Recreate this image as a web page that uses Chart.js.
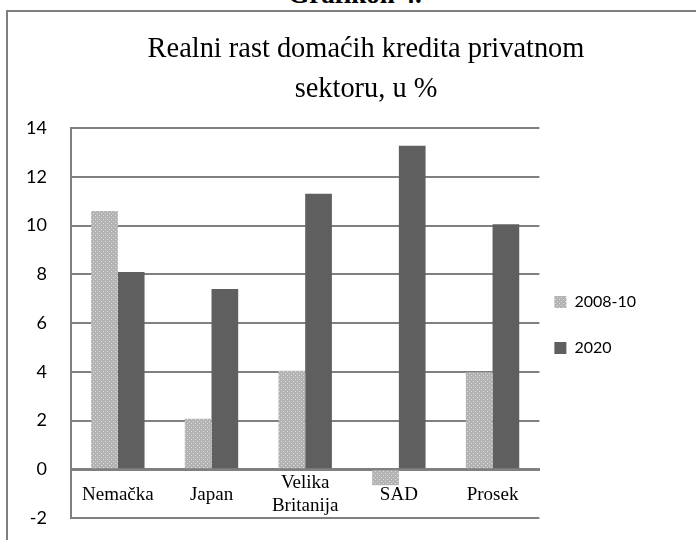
<!DOCTYPE html>
<html>
<head>
<meta charset="utf-8">
<script src="https://cdn.jsdelivr.net/npm/chart.js@4/dist/chart.umd.min.js"></script>
<style>
html,body{margin:0;padding:0;background:#fff;overflow:hidden;}
#wrap{position:relative;width:696px;height:540px;overflow:hidden;}
#frame{position:absolute;left:6px;top:10px;width:800px;height:800px;border-left:2px solid #7f7f7f;border-top:2px solid #7f7f7f;box-sizing:border-box;}
#cap{position:absolute;left:0;width:710px;top:-19px;text-align:center;font:bold 27px/27px "Liberation Serif",serif;color:#000;}
#c{position:absolute;left:0;top:0;}
</style>
</head>
<body>
<div id="wrap">
  <div id="cap">Grafikon 4.</div>
  <div id="frame"></div>
  <canvas id="c" width="696" height="540"></canvas>
</div>
<script>
const titleLines = ['Realni rast domaćih kredita privatnom', 'sektoru, u %'];
const categories = ['Nemačka', 'Japan', ['Velika', 'Britanija'], 'SAD', 'Prosek'];
const seriesNames = ['2008-10', '2020'];
const values2008_10 = [10.6, 2.07, 4.04, -0.66, 3.98];
const values2020 = [8.09, 7.4, 11.3, 13.27, 10.05];
const yMin = -2, yMax = 14, yStep = 2;

function makePattern() {
  const p = document.createElement('canvas');
  p.width = 4; p.height = 4;
  const g = p.getContext('2d');
  g.fillStyle = '#b3b3b3';
  g.fillRect(0, 0, 4, 4);
  g.fillStyle = '#dcdcdc';
  g.fillRect(1, 1, 1, 1);
  g.fillRect(3, 3, 1, 1);
  return document.getElementById('c').getContext('2d').createPattern(p, 'repeat');
}
const lightPattern = makePattern();
const gridColor = '#808080';
const TITLE_CENTER_X = 366;

const shiftTitle = {
  id: 'shiftTitle',
  afterLayout(chart) {
    const t = chart.titleBlock;
    if (!t) return;
    const dx = TITLE_CENTER_X - (t.left + t.right) / 2;
    t.left += dx; t.right += dx;
  }
};

new Chart(document.getElementById('c'), {
  type: 'bar',
  data: {
    labels: categories,
    datasets: [
      { label: seriesNames[0], data: values2008_10, backgroundColor: lightPattern, borderWidth: 0,
        barPercentage: 1, categoryPercentage: 0.57 },
      { label: seriesNames[1], data: values2020, backgroundColor: '#5f5f5f', borderWidth: 0,
        barPercentage: 1, categoryPercentage: 0.57 }
    ]
  },
  plugins: [shiftTitle],
  options: {
    responsive: false,
    animation: false,
    devicePixelRatio: 1,
    layout: { padding: { left: 20, right: 50, top: 0, bottom: 22 } },
    plugins: {
      title: {
        display: true,
        text: titleLines,
        color: '#000',
        font: { family: '"Liberation Serif", serif', size: 28.4, weight: 'normal', lineHeight: '40px' },
        padding: { top: 30, bottom: 18 }
      },
      legend: {
        position: 'right',
        align: 'center',
        fullSize: false,
        title: { display: true, text: '', font: { size: 10, lineHeight: '10px' }, padding: { top: 9, bottom: 0 } },
        labels: {
          boxWidth: 12, boxHeight: 12, padding: 15, color: '#000',
          font: { family: 'Lato, sans-serif', size: 16, lineHeight: '31px' },
          generateLabels: (chart) => Chart.defaults.plugins.legend.labels.generateLabels(chart)
            .map(item => Object.assign(item, { text: [item.text] }))
        }
      },
      tooltip: { enabled: false }
    },
    scales: {
      x: {
        position: { y: 0 },
        grid: { display: false, drawTicks: false },
        border: { display: true, color: gridColor, width: 3 },
        ticks: {
          color: '#000', padding: 14, crossAlign: 'center', maxRotation: 0, autoSkip: false,
          font: { family: '"Liberation Serif", serif', size: 19, lineHeight: '23px' }
        }
      },
      y: {
        min: yMin, max: yMax,
        afterFit: (s) => { s.width = 51; },
        grid: { color: gridColor, lineWidth: 2, drawTicks: true, tickLength: 24, tickColor: 'rgba(0,0,0,0)' },
        border: { display: true, color: gridColor, width: 2 },
        ticks: {
          stepSize: yStep, color: '#000', padding: 0,
          font: { family: 'Lato, sans-serif', size: 18 }
        }
      }
    }
  }
});
</script>
</body>
</html>
